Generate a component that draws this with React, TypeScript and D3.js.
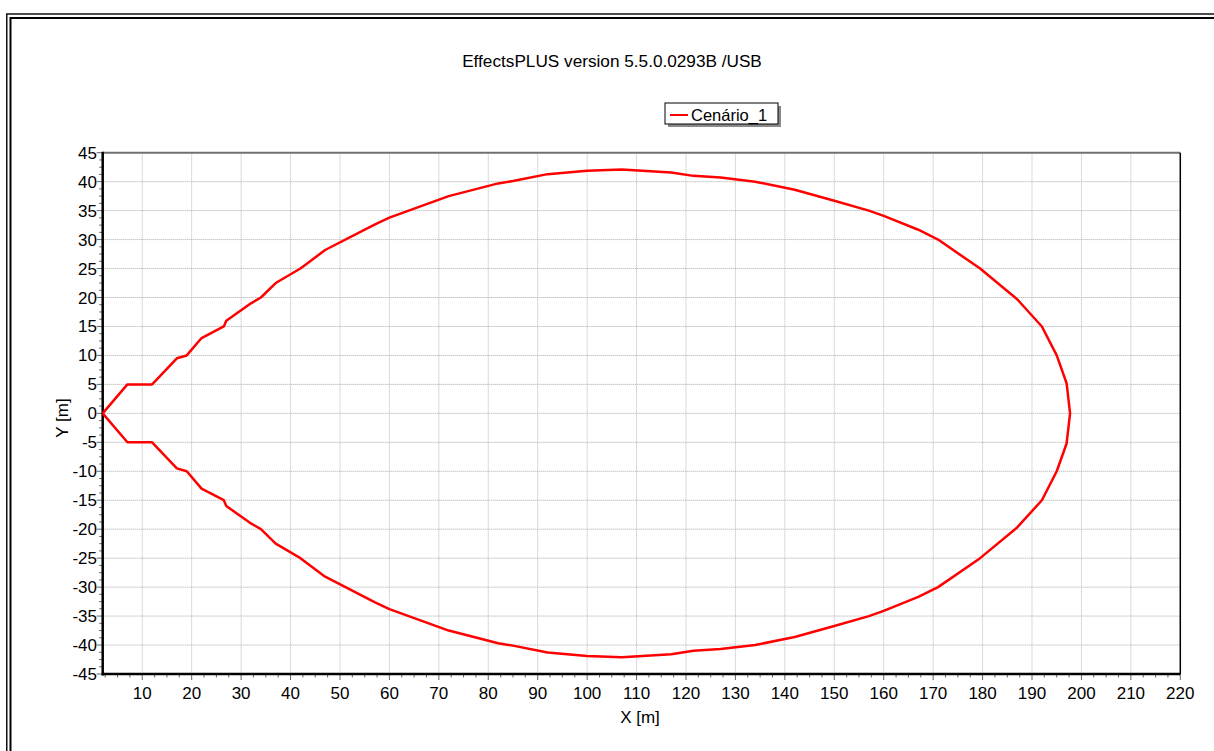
import React from "react";
import * as d3 from "d3";

const TITLE = "EffectsPLUS version 5.5.0.0293B /USB";
const SERIES_NAME = "Cenário_1";
const X_LABEL = "X [m]";
const Y_LABEL = "Y [m]";

// Upper half of the contour (x ascending), then lower half (x descending)
const upperX = [2, 7, 12, 17, 19, 22, 26.5, 27, 32, 34, 37, 42, 47, 57, 60, 72, 82, 85, 92, 100, 107, 117, 121.5, 127, 134, 142, 150, 157, 160, 167, 171, 179.5, 187, 192, 195, 197, 197.7];
const upperY = [0, 5, 5, 9.5, 10, 13, 15, 16, 19, 20, 22.5, 25, 28.2, 32.6, 33.8, 37.5, 39.7, 40.1, 41.3, 41.9, 42.1, 41.6, 41, 40.7, 40, 38.6, 36.7, 35, 34.1, 31.7, 30, 25, 19.7, 15, 10, 5.2, 0];
const lowerX = [197.7, 197, 195, 192, 187, 179.5, 171, 167, 160, 157, 150, 142, 134, 127, 121.5, 117, 107, 100, 92, 85, 82, 72, 60, 57, 47, 42, 37, 34, 32, 27, 26.5, 22, 19, 17, 12, 7, 2];
const lowerY = [0, -5.2, -10, -15, -19.7, -25, -30, -31.7, -34.1, -35, -36.7, -38.6, -40, -40.7, -41, -41.6, -42.1, -41.9, -41.3, -40.1, -39.7, -37.5, -33.8, -32.6, -28.2, -25, -22.5, -20, -19, -16, -15, -13, -10, -9.5, -5, -5, 0];

const xTicks = [10, 20, 30, 40, 50, 60, 70, 80, 90, 100, 110, 120, 130, 140, 150, 160, 170, 180, 190, 200, 210, 220];
const yTicks = [45, 40, 35, 30, 25, 20, 15, 10, 5, 0, -5, -10, -15, -20, -25, -30, -35, -40, -45];

const W = 1214;
const H = 751;
const L = 102.7, R = 1180.3, T = 152.7, B = 674;
const FONT = "'Liberation Sans', Arial, sans-serif";

export default function App() {
  const x = d3.scaleLinear().domain([2, 220]).range([L, R]);
  const y = d3.scaleLinear().domain([-45, 45]).range([B, T]);

  const pts: [number, number][] = [];
  upperX.forEach((v, i) => pts.push([v, upperY[i]]));
  lowerX.forEach((v, i) => pts.push([v, lowerY[i]]));
  const line = d3.line<[number, number]>().x((d) => x(d[0])).y((d) => y(d[1]));

  const xMinor = d3.range(2.5, 220.01, 2.5).filter((v) => v % 10 !== 0);
  const yMinor = d3.range(-45, 45.01, 1.25).filter((v) => Math.abs(v % 5) > 1e-6);

  return (
    <svg width={W} height={H} style={{ position: "absolute", left: 0, top: 0, display: "block", background: "#fff", overflow: "hidden" }} fontFamily={FONT}>
      {/* frame (left and top edges; right/bottom lie beyond the view) */}
      <path d={`M6.75,${H} V14 H${W}`} fill="none" stroke="#111" strokeWidth={1.5} />
      <path d={`M10.5,${H} V18 H${W}`} fill="none" stroke="#000" strokeWidth={2} />

      <text x={612} y={67} textAnchor="middle" fontSize={17.2} fill="#000">{TITLE}</text>

      {/* legend */}
      <rect x={668} y={106} width={113} height={21} fill="#8a8a8a" />
      <rect x={665} y={103} width={113} height={21} fill="#fff" stroke="#000" strokeWidth={1} />
      <line x1={670} x2={688} y1={115} y2={115} stroke="#ff0000" strokeWidth={2} />
      <text x={691} y={121} fontSize={16.5} fill="#000">{SERIES_NAME}</text>

      {/* grid */}
      {xTicks.filter((v) => v < 220).map((v) => (
        <line key={"gx" + v} x1={x(v)} x2={x(v)} y1={T} y2={B} stroke="#b4b4b4" strokeWidth={1} strokeDasharray="1,1" />
      ))}
      {yTicks.filter((v) => v > -45 && v < 45).map((v) => (
        <line key={"gy" + v} x1={L} x2={R} y1={y(v)} y2={y(v)} stroke="#a8a8a8" strokeWidth={1} strokeDasharray="1,1" />
      ))}

      {/* minor ticks */}
      {xMinor.map((v) => (
        <line key={"mx" + v} x1={x(v)} x2={x(v)} y1={B} y2={B + 3.5} stroke="#666" strokeWidth={1} />
      ))}
      {yMinor.map((v) => (
        <line key={"my" + v} x1={L - 3.5} x2={L} y1={y(v)} y2={y(v)} stroke="#666" strokeWidth={1} />
      ))}
      {/* major ticks */}
      {xTicks.map((v) => (
        <line key={"tx" + v} x1={x(v)} x2={x(v)} y1={B} y2={B + 6} stroke="#666" strokeWidth={1} />
      ))}
      {yTicks.map((v) => (
        <line key={"ty" + v} x1={L - 6} x2={L} y1={y(v)} y2={y(v)} stroke="#666" strokeWidth={1} />
      ))}

      {/* borders */}
      <line x1={L} x2={R} y1={T} y2={T} stroke="#707070" strokeWidth={2} />
      <line x1={R} x2={R} y1={T} y2={B} stroke="#000" strokeWidth={1.5} />
      <line x1={L} x2={L} y1={T - 1} y2={B + 1.5} stroke="#000" strokeWidth={2.5} />
      <line x1={L - 1} x2={R} y1={B} y2={B} stroke="#000" strokeWidth={2.5} />

      {/* tick labels */}
      {xTicks.map((v) => (
        <text key={"lx" + v} x={x(v)} y={699} textAnchor="middle" fontSize={17} fill="#000">{v}</text>
      ))}
      {yTicks.map((v) => (
        <text key={"ly" + v} x={97} y={y(v) + 6} textAnchor="end" fontSize={17} fill="#000">{v}</text>
      ))}

      <text x={640} y={723} textAnchor="middle" fontSize={17} fill="#000">{X_LABEL}</text>
      <text transform={`translate(68,418) rotate(-90)`} textAnchor="middle" fontSize={17} fill="#000">{Y_LABEL}</text>

      <path d={line(pts) || ""} fill="none" stroke="#ff0000" strokeWidth={2.5} strokeLinejoin="round" />
    </svg>
  );
}
